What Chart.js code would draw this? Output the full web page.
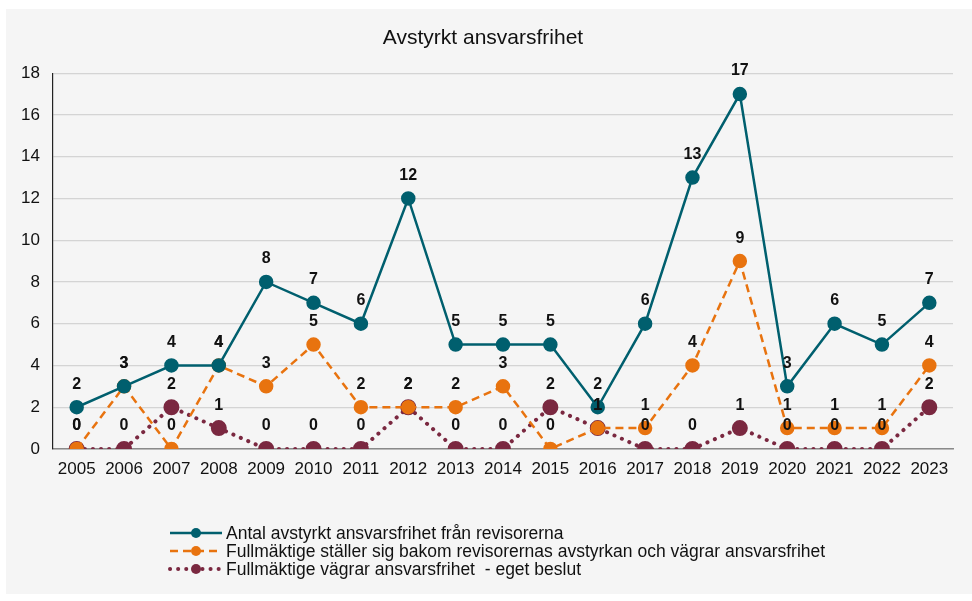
<!DOCTYPE html>
<html>
<head>
<meta charset="utf-8">
<script src="https://cdn.jsdelivr.net/npm/chart.js@4.4.0/dist/chart.umd.min.js"></script>
<style>
  html, body { margin: 0; padding: 0; background: #ffffff; }
  #wrap { position: absolute; left: 6px; top: 9px; width: 966px; height: 585px; background: #f5f5f5; }
  canvas { display: block; }
</style>
</head>
<body>
<div id="wrap"><canvas id="chart" width="966" height="585"></canvas></div>
<script>
// data
const years = ['2005', '2006', '2007', '2008', '2009', '2010', '2011', '2012', '2013', '2014',
               '2015', '2016', '2017', '2018', '2019', '2020', '2021', '2022', '2023'];
const avstyrkt = [2, 3, 4, 4, 8, 7, 6, 12, 5, 5, 5, 2, 6, 13, 17, 3, 6, 5, 7];
const stallerSig = [0, 3, 0, 4, 3, 5, 2, 2, 2, 3, 0, 1, 1, 4, 9, 1, 1, 1, 4];
const egetBeslut = [0, 0, 2, 1, 0, 0, 0, 2, 0, 0, 2, 1, 0, 0, 1, 0, 0, 0, 2];
const seriesNames = [
    'Antal avstyrkt ansvarsfrihet från revisorerna',
    'Fullmäktige ställer sig bakom revisorernas avstyrkan och vägrar ansvarsfrihet',
    'Fullmäktige vägrar ansvarsfrihet  - eget beslut'
];

const TEAL = '#005f6e';
const ORANGE = '#e8730f';
const MAROON = '#7a2840';
const FONT = "'Liberation Sans', Arial, sans-serif";

// value labels above every point
const valueLabels = {
    id: 'valueLabels',
    afterDatasetsDraw(chart) {
        const ctx = chart.ctx;
        ctx.save();
        ctx.font = 'bold 16px ' + FONT;
        ctx.fillStyle = '#111';
        ctx.textAlign = 'center';
        ctx.textBaseline = 'middle';
        chart.data.datasets.forEach((ds, i) => {
            chart.getDatasetMeta(i).data.forEach((pt, j) => {
                ctx.fillText(String(ds.data[j]), pt.x, pt.y - 23);
            });
        });
        ctx.restore();
    }
};

// legend drawn left aligned, one row per series, with line + marker
const sideLegend = {
    id: 'sideLegend',
    afterDraw(chart) {
        const ctx = chart.ctx;
        ctx.save();
        chart.data.datasets.forEach((ds, i) => {
            const y = 524 + i * 18;
            const x0 = 164, x1 = 216;
            ctx.strokeStyle = ds.borderColor;
            ctx.lineWidth = ds.borderWidth;
            ctx.lineCap = ds.borderCapStyle || 'butt';
            ctx.setLineDash(ds.borderDash || []);
            ctx.beginPath();
            ctx.moveTo(x0, y);
            ctx.lineTo(x1, y);
            ctx.stroke();
            ctx.setLineDash([]);
            ctx.fillStyle = ds.pointBackgroundColor;
            ctx.beginPath();
            ctx.arc((x0 + x1) / 2, y, 5, 0, Math.PI * 2);
            ctx.fill();
            ctx.fillStyle = '#111';
            ctx.font = '17.5px ' + FONT;
            ctx.textAlign = 'left';
            ctx.textBaseline = 'middle';
            ctx.fillText(seriesNames[i], x1 + 4, y + 1);
        });
        ctx.restore();
    }
};

new Chart(document.getElementById('chart'), {
    type: 'line',
    data: {
        labels: years,
        datasets: [
            {
                label: seriesNames[0],
                data: avstyrkt,
                borderColor: TEAL,
                backgroundColor: TEAL,
                pointBackgroundColor: TEAL,
                pointBorderColor: TEAL,
                borderWidth: 2.5,
                pointRadius: 6,
                tension: 0,
                order: 1
            },
            {
                label: seriesNames[1],
                data: stallerSig,
                borderColor: ORANGE,
                backgroundColor: ORANGE,
                pointBackgroundColor: ORANGE,
                pointBorderColor: ORANGE,
                borderWidth: 2.5,
                borderDash: [8, 5],
                pointRadius: 6,
                tension: 0,
                order: 2
            },
            {
                label: seriesNames[2],
                data: egetBeslut,
                borderColor: MAROON,
                backgroundColor: MAROON,
                pointBackgroundColor: MAROON,
                pointBorderColor: MAROON,
                borderWidth: 4,
                borderDash: [0.1, 8],
                borderCapStyle: 'round',
                pointRadius: 6,
                tension: 0,
                order: 3
            }
        ]
    },
    options: {
        responsive: false,
        animation: false,
        layout: { padding: { top: 13, left: 7, right: 19, bottom: 115 } },
        scales: {
            x: {
                offset: true,
                grid: { display: false, drawTicks: false },
                border: { color: '#8a8a8a', width: 1.5 },
                ticks: { color: '#111', font: { family: FONT, size: 17 }, padding: 10, maxRotation: 0, autoSkip: false },
                afterFit: (s) => { s.height = 30; }
            },
            y: {
                min: 0,
                max: 18,
                grid: { color: '#d4d4d4', lineWidth: 1.2, drawTicks: false },
                border: { color: '#222', width: 1.2 },
                ticks: { stepSize: 2, color: '#111', font: { family: FONT, size: 17 }, padding: 13 },
                afterFit: (s) => { s.width = 40; }
            }
        },
        plugins: {
            legend: { display: false },
            tooltip: { enabled: false },
            title: {
                display: true,
                text: 'Avstyrkt ansvarsfrihet',
                color: '#111',
                font: { family: FONT, size: 21, weight: 'normal' },
                padding: { top: 4, bottom: 22 }
            }
        }
    },
    plugins: [valueLabels, sideLegend]
});
</script>
</body>
</html>
